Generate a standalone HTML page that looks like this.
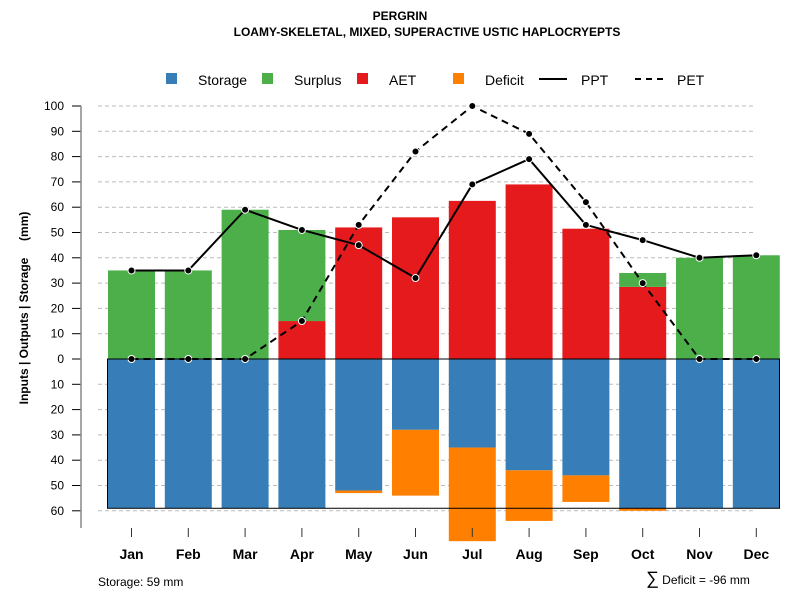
<!DOCTYPE html>
<html><head><meta charset="utf-8"><style>
body{margin:0;background:#fff}
svg text{font-family:"Liberation Sans",sans-serif;}
</style></head><body>
<svg id="chart" width="800" height="600" xmlns="http://www.w3.org/2000/svg">
<text x="400" y="20" text-anchor="middle" font-size="12" font-weight="bold">PERGRIN</text>
<text x="427" y="36" text-anchor="middle" font-size="12" font-weight="bold">LOAMY-SKELETAL, MIXED, SUPERACTIVE USTIC HAPLOCRYEPTS</text>
<g id="legend">
<rect x="166" y="73" width="11" height="11" fill="#377eb8"/>
<text x="198" y="85" font-size="14">Storage</text>
<rect x="262" y="73" width="11" height="11" fill="#4daf4a"/>
<text x="294" y="85" font-size="14">Surplus</text>
<rect x="357" y="73" width="11" height="11" fill="#e41a1c"/>
<text x="389" y="85" font-size="14">AET</text>
<rect x="453" y="73" width="11" height="11" fill="#ff7f00"/>
<text x="485" y="85" font-size="14">Deficit</text>
<line x1="539" y1="79" x2="567" y2="79" stroke="#000" stroke-width="2"/>
<text x="581" y="85" font-size="14">PPT</text>
<line x1="635" y1="79" x2="663" y2="79" stroke="#000" stroke-width="2" stroke-dasharray="6,5"/>
<text x="677" y="85" font-size="14">PET</text>
</g>
<text transform="translate(28,308) rotate(-90)" text-anchor="middle" font-size="12" font-weight="bold" xml:space="preserve" style="white-space:pre">Inputs | Outputs | Storage     (mm)</text>
<text x="98" y="586" font-size="12">Storage: 59 mm</text>
<text x="646" y="584" font-size="12"><tspan font-size="18">∑</tspan> Deficit = -96 mm</text>
<g id="grid"></g><g id="bars"></g><g id="lines"></g><g id="axes"></g>
</svg>
<script>
const months=["Jan","Feb","Mar","Apr","May","Jun","Jul","Aug","Sep","Oct","Nov","Dec"];
const storage=[59,59,59,59,52,28,35,44,46,59,59,59];
const deficit=[0,0,0,0,1,26,37,20,10.5,1,0,0];
const aet=[0,0,0,15,52,56,62.5,69,51.5,28.5,0,0];
const surplus=[35,35,59,36,0,0,0,0,0,5.5,40,41];
const ppt=[35,35,59,51,45,32,69,79,53,47,40,41];
const pet=[0,0,0,15,53,82,100,89,62,30,0,0];
const posTicks=[0,10,20,30,40,50,60,70,80,90,100];
const negTicks=[10,20,30,40,50,60];
const NS="http://www.w3.org/2000/svg";
const y=v=>359-v*2.53;
const xc=i=>131.5+i*56.8;
const bw=47;
function mk(tag,attrs,parent){const e=document.createElementNS(NS,tag);for(const k in attrs)e.setAttribute(k,attrs[k]);document.getElementById(parent).appendChild(e);return e;}
posTicks.concat(negTicks.map(v=>-v)).forEach(v=>{
 if(v!==0){const g=mk('line',{x1:98,x2:756,y1:y(v),y2:y(v),stroke:'#bbb','stroke-dasharray':'4,3'},'grid');
 
 }
 const t=mk('line',{x1:72,x2:81,y1:y(v),y2:y(v),stroke:'#000'},'axes');
 
 
 const l=mk('text',{x:64,y:y(v)+4,'text-anchor':'end','font-size':12},'axes');l.textContent=Math.abs(v);
 
 
});
function bar(x,y1,y2,fill,name){const r=mk('rect',{x:x-bw/2,y:Math.min(y1,y2),width:bw,height:Math.abs(y2-y1),fill:fill},'bars');
 
 }
months.forEach((m,i)=>{
 const x=xc(i);
 bar(x,y(0),y(-storage[i]),'#377eb8','storage-bar-'+m.toLowerCase());
 if(deficit[i]>0)bar(x,y(-storage[i]),y(-storage[i]-deficit[i]),'#ff7f00','deficit-bar-'+m.toLowerCase());
 if(aet[i]>0)bar(x,y(0),y(aet[i]),'#e41a1c','aet-bar-'+m.toLowerCase());
 if(surplus[i]>0)bar(x,y(aet[i]),y(aet[i]+surplus[i]),'#4daf4a','surplus-bar-'+m.toLowerCase());
 const t=mk('line',{x1:x,x2:x,y1:528,y2:537,stroke:'#333'},'axes');
 
 
 const l=mk('text',{x:x,y:559,'text-anchor':'middle','font-size':14,'font-weight':'bold'},'axes');l.textContent=m;
 
 
});
const box=mk('rect',{x:107.5,y:y(0),width:672,height:y(-59)-y(0),fill:'none',stroke:'#000'},'axes');


const ax=mk('line',{x1:81,x2:81,y1:y(100),y2:528,stroke:'#888','stroke-width':1.5},'axes');


function series(d,dash,name){
 const p=mk('polyline',{points:d.map((v,i)=>xc(i)+','+y(v)).join(' '),fill:'none',stroke:'#000','stroke-width':2,'stroke-dasharray':dash},'lines');
 
 
 d.forEach((v,i)=>{const c=mk('circle',{cx:xc(i),cy:y(v),r:3.5,fill:'#000',stroke:'#fff','stroke-width':1},'lines');
 
 });
}
series(pet,'7,5','pet');
series(ppt,'none','ppt');
</script>
</body></html>
